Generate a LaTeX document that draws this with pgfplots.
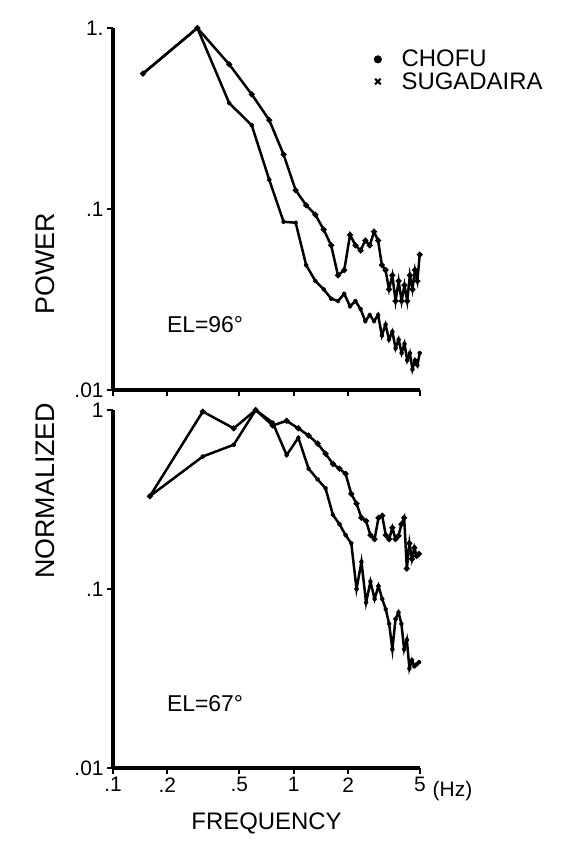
\documentclass[border=0pt]{standalone}
\usepackage{fontspec}
\setmainfont{Liberation Sans}
\usepackage{pgfplots}
\pgfplotsset{compat=1.18}
\usepackage{pgfplotstable}

% top panel (EL=96 deg)
\pgfplotstableread{
x y
0.1465 0.56
0.293 1.0
0.4395 0.63
0.586 0.43
0.7325 0.31
0.879 0.20
1.0255 0.127
1.172 0.105
1.3185 0.093
1.465 0.077
1.6115 0.063
1.758 0.043
1.9045 0.046
2.051 0.072
2.1975 0.063
2.344 0.059
2.4905 0.067
2.637 0.063
2.7835 0.075
2.93 0.067
3.0765 0.049
3.223 0.046
3.3695 0.036
3.516 0.043
3.6625 0.031
3.809 0.040
3.9555 0.031
4.102 0.038
4.2485 0.031
4.395 0.043
4.5415 0.036
4.688 0.046
4.8345 0.040
4.981 0.056
}\topA
\pgfplotstableread{
x y
0.1465 0.56
0.293 1.0
0.4395 0.385
0.586 0.29
0.7325 0.145
0.879 0.085
1.0255 0.084
1.172 0.049
1.3185 0.040
1.465 0.036
1.6115 0.032
1.758 0.031
1.9045 0.034
2.051 0.029
2.1975 0.031
2.344 0.028
2.4905 0.024
2.637 0.026
2.7835 0.024
2.93 0.026
3.0765 0.020
3.223 0.023
3.3695 0.019
3.516 0.021
3.6625 0.017
3.809 0.019
3.9555 0.016
4.102 0.018
4.2485 0.0146
4.395 0.016
4.5415 0.013
4.688 0.0146
4.8345 0.0137
4.981 0.016
}\topB
% bottom panel (EL=67 deg)
\pgfplotstableread{
x y
0.160 0.33
0.314 0.98
0.466 0.79
0.616 1.0
0.765 0.82
0.914 0.87
1.061 0.79
1.209 0.72
1.355 0.65
1.501 0.57
1.648 0.50
1.793 0.47
1.938 0.44
2.083 0.34
2.227 0.30
2.371 0.25
2.515 0.24
2.659 0.20
2.803 0.19
2.946 0.25
3.089 0.257
3.232 0.20
3.374 0.19
3.517 0.22
3.660 0.19
3.802 0.198
3.944 0.23
4.086 0.25
4.228 0.13
4.370 0.18
4.511 0.147
4.653 0.17
4.794 0.153
4.936 0.157
}\botC
\pgfplotstableread{
x y
0.160 0.33
0.314 0.55
0.466 0.64
0.616 1.0
0.765 0.85
0.914 0.56
1.061 0.70
1.209 0.47
1.355 0.41
1.501 0.365
1.648 0.26
1.793 0.23
1.938 0.20
2.083 0.18
2.227 0.10
2.371 0.142
2.515 0.084
2.659 0.11
2.803 0.088
2.946 0.104
3.089 0.088
3.232 0.077
3.374 0.064
3.517 0.046
3.660 0.068
3.802 0.074
3.944 0.064
4.086 0.046
4.228 0.052
4.370 0.036
4.511 0.040
4.653 0.037
4.794 0.038
4.936 0.039
}\botD

\begin{document}
\begin{tikzpicture}[x=1bp,y=1bp]
\useasboundingbox (0,0) rectangle (578,-849);
% top panel
\begin{axis}[
  xmode=log, ymode=log,
  scale only axis, width=307bp, height=362bp,
  at={(113bp,-390bp)}, anchor=south west,
  xmin=0.1, xmax=5, ymin=0.01, ymax=1,
  axis x line*=bottom, axis y line*=left,
  axis line style={line width=3.2bp},
  xtick={0.1,0.2,0.5,1,2,5},
  ytick={0.01,0.1,1},
  xminorticks=false, yminorticks=false,
  tick align=outside, major tick length=6bp,
  tick style={line width=2.2bp, black},
  clip=false,
  tick label style={font=\fontsize{21}{23}\selectfont},
  xticklabels={},
  yticklabels={.01,.1,1.},
  legend style={at={(0.84,0.95)}, anchor=north west, draw=none, fill=none,
    font=\fontsize{24}{26}\selectfont, row sep=0bp,
    /tikz/every odd column/.append style={column sep=18bp}},
  legend cell align=left]
\addplot[forget plot, black, line width=2.5bp, mark=*, mark size=1.5bp] table {\topA};
\addplot[forget plot, black, line width=2.5bp, mark=x, mark size=2bp] table {\topB};
\addlegendimage{only marks, mark=*, mark size=3.8bp, black}
\addlegendentry{CHOFU}
\addlegendimage{only marks, mark=x, mark size=4bp, line width=2.2bp, black}
\addlegendentry{SUGADAIRA}
\node[font=\fontsize{23}{25}\selectfont] at (rel axis cs:0.30,0.18) {EL=96°};
\end{axis}
% bottom panel
\begin{axis}[
  xmode=log, ymode=log,
  scale only axis, width=307bp, height=358bp,
  at={(113bp,-768bp)}, anchor=south west,
  xmin=0.1, xmax=5, ymin=0.01, ymax=1,
  axis x line*=bottom, axis y line*=left,
  axis line style={line width=3.2bp},
  xtick={0.1,0.2,0.5,1,2,5},
  ytick={0.01,0.1,1},
  xminorticks=false, yminorticks=false,
  tick align=outside, major tick length=6bp,
  tick style={line width=2.2bp, black},
  clip=false,
  tick label style={font=\fontsize{21}{23}\selectfont},
  xticklabels={.1,.2,.5,1,2,5},
  yticklabels={.01,.1,1},
  xlabel={FREQUENCY},
  xlabel style={font=\fontsize{24}{26}\selectfont, yshift=-14bp}]
\addplot[black, line width=2.5bp, mark=*, mark size=1.5bp] table {\botC};
\addplot[black, line width=2.5bp, mark=x, mark size=2bp] table {\botD};
\node[font=\fontsize{23}{25}\selectfont] at (rel axis cs:0.30,0.18) {EL=67°};
\node[font=\fontsize{21}{23}\selectfont, anchor=west] at (rel axis cs:1.03,-0.065) {(Hz)};
\end{axis}
\node[rotate=90, font=\fontsize{27}{29}\selectfont] at (45,-396) {NORMALIZED\hspace{88bp}POWER};
\end{tikzpicture}
\end{document}
